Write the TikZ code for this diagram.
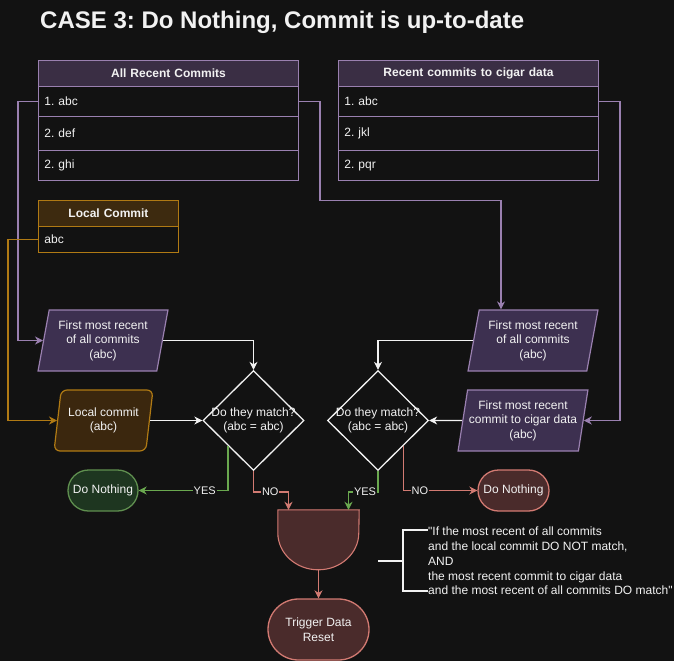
\documentclass[tikz,border=0pt]{standalone}
\usepackage{fontspec}
\setmainfont{Liberation Sans}
\newfontfamily\plainsans{Liberation Sans}
\frenchspacing
\usetikzlibrary{shapes.geometric,shapes.misc,arrows.meta,calc}
\definecolor{bg}{HTML}{121212}
\definecolor{pstroke}{HTML}{9A80B0}
\definecolor{phead}{HTML}{3A2E44}
\definecolor{pfill}{HTML}{3D3050}
\definecolor{ostroke}{HTML}{B07A14}
\definecolor{ohead}{HTML}{3D2A0F}
\definecolor{ofill}{HTML}{3B270E}
\definecolor{gstroke}{HTML}{5F8F4F}
\definecolor{gfill}{HTML}{1E3620}
\definecolor{garrow}{HTML}{6AA84F}
\definecolor{rstroke}{HTML}{D27A72}
\definecolor{rfill}{HTML}{4A2B2B}
\definecolor{txt}{HTML}{F2F2F2}
\begin{document}
\begin{tikzpicture}[x=1pt,y=-1pt,
  every node/.style={text=txt},
  base/.style={font=\fontsize{12}{14.5}\selectfont},
  cell/.style={base, draw=pstroke, line width=0.9pt, fill=bg, anchor=north west, inner xsep=6pt, inner ysep=0pt, text width=248pt, align=left},
  headcell/.style={cell, fill=phead, align=center, font=\bfseries\fontsize{12}{14.5}\selectfont},
  ocell/.style={cell, draw=ostroke, text width=128pt},
  oheadcell/.style={ocell, fill=ohead, align=center, font=\bfseries\fontsize{12}{14.5}\selectfont},
  para/.style={base, trapezium, trapezium left angle=77, trapezium right angle=103, trapezium stretches=true, minimum width=130pt, minimum height=61pt, inner sep=0pt, align=center, draw=pstroke, fill=pfill, line width=1.2pt},
  opara/.style={para, draw=ostroke, fill=ofill, rounded corners=6pt, minimum width=99pt},
  dmd/.style={diamond, draw=txt, line width=1.3pt, fill=bg, minimum width=101pt, minimum height=100pt, inner sep=0pt},
  dtext/.style={base, align=center, inner sep=0pt},
  term/.style={base, rounded rectangle, line width=1.3pt, inner sep=0pt},
  lbl/.style={font=\fontsize{11}{13}\selectfont, fill=bg, inner sep=0.8pt, text=txt},
  tip/.style={-{Stealth[length=8pt,width=8pt,inset=2.5pt]}},
  parr/.style={tip, draw=pstroke, line width=1.5pt},
  oarr/.style={tip, draw=ostroke, line width=1.5pt},
  warr/.style={tip, draw=txt, line width=1.1pt},
  garr/.style={tip, draw=garrow, line width=1.5pt},
  rarr/.style={tip, draw=rstroke, line width=1.5pt}
]
\fill[bg] (0,0) rectangle (674,661);
\useasboundingbox (0,0) rectangle (674,661);

% title
\node[anchor=base west, inner sep=0pt, font=\bfseries\fontsize{24}{28}\selectfont] (title) at (40,29) {CASE 3: Do Nothing, Commit is up-to-date};

% All recent commits table
\node[headcell, minimum height=26pt] (arH) at (38,60) {All Recent Commits};
\node[cell, minimum height=30pt] (ar1) at (38,86) {1. abc};
\node[cell, minimum height=34pt] (ar2) at (38,116) {2. def};
\node[cell, minimum height=30pt] (ar3) at (38,150) {2. ghi};

% cigar data table
\node[headcell, minimum height=26pt] (cgH) at (338,60) {Recent commits to cigar data};
\node[cell, minimum height=30pt] (cg1) at (338,86) {1. abc};
\node[cell, minimum height=34pt] (cg2) at (338,116) {2. jkl};
\node[cell, minimum height=30pt] (cg3) at (338,150) {2. pqr};

% local commit table
\node[oheadcell, minimum height=26pt] (lcH) at (38,200) {Local Commit};
\node[ocell, minimum height=26pt] (lc1) at (38,226) {abc};

% parallelograms
\node[para] (pl1) at (103,340.5) {First most recent\\of all commits\\(abc)};
\node[opara] (pl2) at (103.5,420.5) {Local commit\\(abc)};
\node[para] (pr1) at (533,340.5) {First most recent\\of all commits\\(abc)};
\node[para] (pr2) at (523,420.5) {First most recent\\commit to cigar data\\(abc)};

% diamonds
\node[dmd] (dl) at (253.5,420.5) {};
\node[dtext] (dlt) at (253.5,420.5) {Do they match?\\(abc = abc)};
\node[dmd] (dr) at (378,420.5) {};
\node[dtext] (drt) at (378,420.5) {Do they match?\\(abc = abc)};

% terminals
\node[term, draw=gstroke, fill=gfill, minimum width=70pt, minimum height=41pt] (dnG) at (103,490.5) {Do Nothing};
\node[term, draw=rstroke, fill=rfill, minimum width=71pt, minimum height=41pt] (dnR) at (513.5,490.5) {Do Nothing};

% AND gate
\node[minimum width=81pt, minimum height=60pt, inner sep=0pt] (gate) at (318.5,540) {};
\draw[draw=rstroke, fill=rfill, line width=1.1pt] (gate.north west) -- ++(0,23) arc[start angle=180, end angle=360, x radius=40.5pt, y radius=37pt] -- (gate.north east) -- cycle;

\node[term, draw=rstroke, fill=rfill, minimum width=101pt, minimum height=61pt, align=center] (trig) at (318.5,629.5) {Trigger Data\\Reset};

% helper coordinates
\coordinate (xA) at (501,0);

% connectors from tables
\draw[parr] (ar1.west) -- ++(-20,0) |- (pl1.west);
\draw[parr] (ar1.east) -- ++(21,0) -- ++(0,99) -| (pr1.north -| xA);
\draw[parr] (cg1.east) -- ++(21,0) |- (pr2.east);
\draw[oarr] (lc1.west) -- ++(-30,0) |- (pl2.west);

% into diamonds
\draw[warr] (pl1.east) -| (dl.north);
\draw[warr] (pl2.east) -- (dl.west);
\draw[warr] (pr1.west) -| (dr.north);
\draw[warr] (pr2.west) -- (dr.east);

% outcomes
\draw[garr] (dl.south west) |- node[lbl, pos=0.63] {YES} (dnG.east);
\draw[rarr] (dl.south) -- ++(0,21) -| node[lbl, pos=0.24] {NO} ([xshift=-30pt]gate.north);
\draw[garr] (dr.south) -- ++(0,21) -| node[lbl, pos=0.22] {YES} ([xshift=30pt]gate.north);
\draw[rarr] (dr.south east) |- node[lbl, pos=0.61] {NO} (dnR.west);
\draw[rarr] (gate.south) -- (trig.north);

% note with bracket
\node[base, anchor=west, align=left, inner sep=0pt, font=\plainsans\fontsize{12}{14.75}\selectfont] (note) at (428,561) {"If the most recent of all commits\\and the local commit DO NOT match,\\AND\\the most recent commit to cigar data\\and the most recent of all commits DO match"};
\draw[draw=txt, line width=1.1pt] (378,561) -- (403,561);
\draw[draw=txt, line width=1.1pt] (note.west |- 0,530) -- (403,530) -- (403,591) -- (note.west |- 0,591);
\end{tikzpicture}
\end{document}
